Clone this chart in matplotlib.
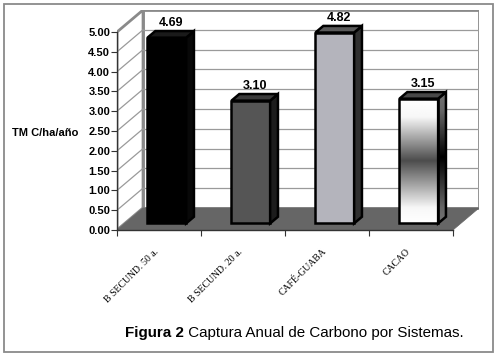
"""
Captura anual de carbono por sistemas - barras con efecto 3D (estilo Excel)
"""
import numpy as np
import matplotlib
matplotlib.use("Agg")
import matplotlib.pyplot as plt
from matplotlib.patches import Polygon, Rectangle
from matplotlib.transforms import ScaledTranslation

categories = ["B SECUND. 50 a.", "B SECUND. 20 a.", "CAFÉ-GUABA", "CACAO"]
values = [4.69, 3.10, 4.82, 3.15]
yticks = [0.0, 0.5, 1.0, 1.5, 2.0, 2.5, 3.0, 3.5, 4.0, 4.5, 5.0]
ylabel = "TM C/ha/año"

front_colors = ["#000000", "#555555", "#b4b4bc", None]   # None -> degradado
side_colors = ["#080808", "#1c1c1c", "#303030", None]
top_colors = ["#1a1a1a", "#3a3a3a", "#5a5a5a", "#484848"]

# degradado vertical (posición desde abajo, gris)
grad_pos = [0.0, 0.12, 0.5, 0.85, 1.0]
grad_front = [1.0, 0.97, 0.30, 0.97, 1.0]
grad_side = [0.45, 0.40, 0.0, 0.40, 0.45]

OX, OY = 0.31, 0.556      # profundidad total del piso (unidades de datos)
BAR_W = 0.46
D0, DD = 0.30, 0.30       # posición y grosor de la barra en profundidad
WALL = "#8a8a8a"

plt.rcParams["font.family"] = ["Liberation Sans", "DejaVu Sans"]

fig = plt.figure(figsize=(5.0, 3.57), dpi=100)
ymax = yticks[-1]
ax = fig.add_axes([117 / 500, 127 / 357, (4 + OX) * 84 / 500, (ymax + OY) * 39.6 / 357])
ax.set_facecolor("none")

x_lo, x_hi = -0.5, len(categories) - 0.5

# paredes
ax.add_patch(Rectangle((x_lo + OX, OY), x_hi - x_lo, ymax, fc="white",
                       ec=WALL, lw=2, zorder=0))
ax.add_patch(Polygon([(x_lo, 0), (x_lo, ymax), (x_lo + OX, ymax + OY), (x_lo + OX, OY)],
                     closed=True, fc="white", ec=WALL, lw=2, zorder=0))
for v in yticks[1:-1]:
    ax.plot([x_lo + OX, x_hi + OX], [v + OY, v + OY], color="#9a9a9a", lw=0.9, zorder=0.5)
    ax.plot([x_lo, x_lo + OX], [v, v + OY], color="#9a9a9a", lw=0.9, zorder=0.5)

# piso
ax.add_patch(Polygon([(x_lo, 0), (x_hi, 0), (x_hi + OX, OY), (x_lo + OX, OY)],
                     closed=True, fc="#666666", ec="#666666", lw=0.5, zorder=1))


def gradient(ax, xs, ys, pos, vals, clip):
    arr = np.interp(np.linspace(0, 1, 256), pos, vals)[:, None]
    im = ax.imshow(arr, cmap="gray", vmin=0, vmax=1, origin="lower", aspect="auto",
                   extent=[min(xs), max(xs), min(ys), max(ys)], zorder=3,
                   interpolation="bilinear")
    im.set_clip_path(clip)


for i, (val, fc, sc, tc) in enumerate(zip(values, front_colors, side_colors, top_colors)):
    x0 = i - BAR_W / 2 + D0 * OX
    base = D0 * OY
    top = val + base
    dx, dy = DD * OX, DD * OY
    front = [(x0, base), (x0 + BAR_W, base), (x0 + BAR_W, top), (x0, top)]
    side = [(x0 + BAR_W, base), (x0 + BAR_W + dx, base + dy),
            (x0 + BAR_W + dx, top + dy), (x0 + BAR_W, top)]
    topf = [(x0, top), (x0 + BAR_W, top), (x0 + BAR_W + dx, top + dy), (x0 + dx, top + dy)]

    for pts, c in ((front, fc), (side, sc)):
        p = Polygon(pts, closed=True, fc=c if c else "none", ec="black", lw=1.8,
                    zorder=3 if c else 4, joinstyle="miter")
        ax.add_patch(p)
        if c is None:
            g = grad_front if pts is front else grad_side
            gradient(ax, [q[0] for q in pts], [base, top + (dy if pts is side else 0)],
                     grad_pos, g, p)
    ax.add_patch(Polygon(topf, closed=True, fc=tc, ec="black", lw=1.8, zorder=4,
                         joinstyle="miter"))
    ax.annotate(f"{val:.2f}", (x0 + BAR_W / 2 + dx / 2, top + dy), xytext=(0, 1.5),
                textcoords="offset points", ha="center", va="bottom",
                fontsize=9, fontweight="bold", zorder=5)

ax.set_xlim(x_lo, x_hi + OX)
ax.set_ylim(0, ymax + OY)

for s in ("top", "right"):
    ax.spines[s].set_visible(False)
ax.spines["left"].set_bounds(0, ymax)
ax.spines["bottom"].set_bounds(x_lo, x_hi)
for s in ("left", "bottom"):
    ax.spines[s].set_color("#333333")
    ax.spines[s].set_linewidth(1)
    ax.spines[s].set_zorder(2)

ax.set_yticks(yticks)
ax.set_yticklabels([f"{v:.2f}" for v in yticks], fontsize=8, fontweight="bold")
ax.tick_params(axis="y", length=4, width=0.8, color="#333333", pad=1)

ax.set_xticks(np.arange(x_lo, x_hi + 0.01, 1.0))
ax.set_xticklabels([])
ax.tick_params(axis="x", which="major", length=4, width=0.8, color="#333333")
ax.set_xticks(np.arange(len(categories)), minor=True)
ax.set_xticklabels(categories, minor=True, rotation=45, ha="right",
                   rotation_mode="anchor", fontsize=7, family="Liberation Serif")
ax.tick_params(axis="x", which="minor", length=0, pad=12)
shift = ScaledTranslation(-5 / 100, 0, fig.dpi_scale_trans)
for lbl in ax.get_xticklabels(minor=True):
    lbl.set_transform(lbl.get_transform() + shift)

fig.text(78 / 500, 1 - 133 / 357, ylabel, ha="right", va="center",
         fontsize=8, fontweight="bold")

# título en dos partes
t1 = fig.text(125 / 500, 1 - 337 / 357, "Figura 2", fontsize=10.9, fontweight="bold",
              ha="left", va="baseline")
fig.canvas.draw()
bb = t1.get_window_extent(fig.canvas.get_renderer())
fig.text(bb.x1 / fig.bbox.width, 1 - 337 / 357, " Captura Anual de Carbono por Sistemas.",
         fontsize=10.9, ha="left", va="baseline")

# marco exterior
fig.patches.append(Rectangle((4 / 500, 1 - 352 / 357), 489 / 500, 348 / 357,
                             transform=fig.transFigure, fill=False, ec="#8a8a8a", lw=1.3))

fig.savefig("out.png", dpi=100)
